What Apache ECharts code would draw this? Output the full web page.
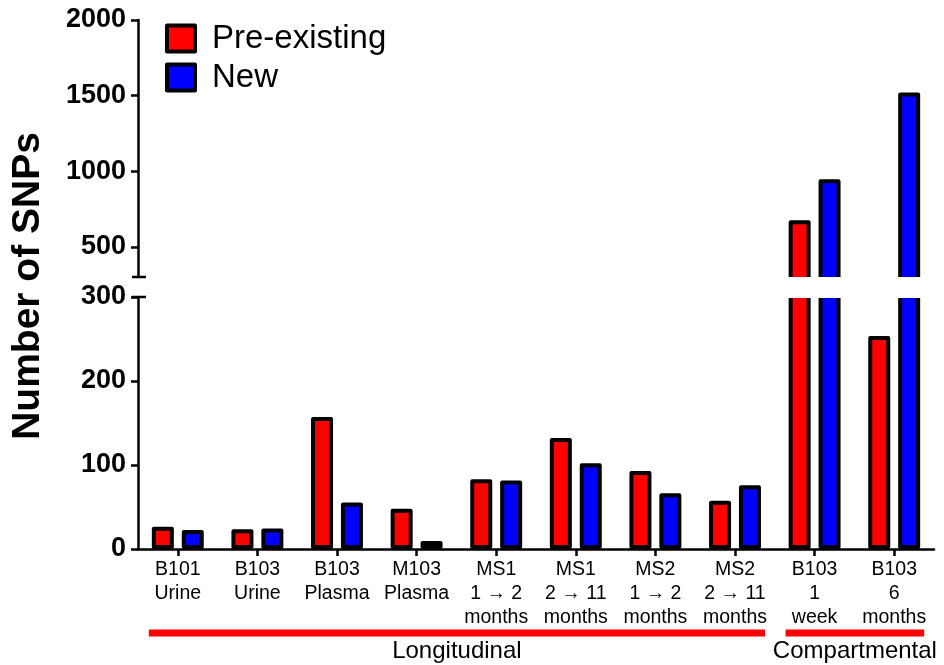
<!DOCTYPE html>
<html><head><meta charset="utf-8">
<script src="https://cdn.jsdelivr.net/npm/echarts@6/dist/echarts.min.js"></script>
<style>html,body{margin:0;padding:0;background:#fff}#c{width:944px;height:665px}</style>
</head><body><div id="c"></div>
<script>
const categories = ['B101\nUrine','B103\nUrine','B103\nPlasma','M103\nPlasma','MS1\n1 → 2\nmonths','MS1\n2 → 11\nmonths','MS2\n1 → 2\nmonths','MS2\n2 → 11\nmonths','B103\n1\nweek','B103\n6\nmonths'];
const preExisting = [26.5, 23.5, 157, 48, 83, 132, 93, 57.5, 675, 253.5];
const newSnps = [22.5, 24.5, 55.5, 9.5, 81.5, 102, 66.5, 76, 946, 1520];
const upperTicks = [500, 1000, 1500, 2000];
const lowerTicks = [0, 100, 200, 300];
const breakAt = 300;
const groups = [
  {name: 'Longitudinal', from: 0, to: 7},
  {name: 'Compartmental', from: 8, to: 9}
];
const yTitle = 'Number of SNPs';

const FONT = '"Liberation Sans", Arial, sans-serif';
const chart = echarts.init(document.getElementById('c'), null, {renderer: 'canvas'});
const barStyle = c => ({color: c, borderColor: '#000', borderWidth: 4, borderJoin: 'round'});
const axisLine = {show: true, lineStyle: {color: '#000', width: 2.5}};
const tickStyle = {color: '#000', width: 2.5};
const yLabel = {color: '#000', fontFamily: FONT, fontWeight: 'bold', fontSize: 27, margin: 12,
                formatter: v => String(v)};

// Upper panel spans 300..2000 (with a few px of overflow below the break hidden later);
// lower panel spans 0..300 (plus a few px above the break).
chart.setOption({
  animation: false,
  backgroundColor: '#fff',
  grid: [
    {left: 138, right: 10, top: 20, bottom: 384},
    {left: 138, right: 10, top: 294, bottom: 116}
  ],
  legend: {
    data: ['Pre-existing', 'New'], orient: 'vertical', left: 165, top: 22, padding: 0,
    icon: 'rect', itemWidth: 28, itemHeight: 26, itemGap: 6, selectedMode: false,
    itemStyle: {borderWidth: 4, borderColor: '#000'},
    textStyle: {fontSize: 33, fontFamily: FONT, color: '#000', lineHeight: 33, padding: [0, 0, 0, 12]}
  },
  xAxis: [
    {type: 'category', gridIndex: 0, data: categories, show: false},
    {type: 'category', gridIndex: 1, data: categories,
     axisLine: axisLine,
     axisTick: {show: true, alignWithLabel: true, length: 7, lineStyle: tickStyle},
     axisLabel: {interval: 0, color: '#000', fontFamily: FONT, fontSize: 19.5, lineHeight: 24, margin: 9}}
  ],
  yAxis: [
    {type: 'value', gridIndex: 0, min: 273.5, max: 2000, splitLine: {show: false},
     axisLine: axisLine,
     axisTick: {show: true, length: 7, customValues: upperTicks, lineStyle: tickStyle},
     axisLabel: Object.assign({customValues: upperTicks}, yLabel)},
    {type: 'value', gridIndex: 1, min: 0, max: 303.57, splitLine: {show: false},
     axisLine: axisLine,
     axisTick: {show: true, length: 7, customValues: lowerTicks, lineStyle: tickStyle},
     axisLabel: Object.assign({customValues: lowerTicks}, yLabel)}
  ],
  series: [
    {name: 'Pre-existing', type: 'bar', xAxisIndex: 1, yAxisIndex: 1, data: preExisting, barWidth: 22, barGap: '36%', clip: true, itemStyle: barStyle('#ff0000')},
    {name: 'New', type: 'bar', xAxisIndex: 1, yAxisIndex: 1, data: newSnps, barWidth: 22, barGap: '36%', clip: true, itemStyle: barStyle('#0000ff')},
    {name: 'Pre-existing', type: 'bar', xAxisIndex: 0, yAxisIndex: 0, data: preExisting, barWidth: 22, barGap: '36%', clip: true, itemStyle: barStyle('#ff0000')},
    {name: 'New', type: 'bar', xAxisIndex: 0, yAxisIndex: 0, data: newSnps, barWidth: 22, barGap: '36%', clip: true, itemStyle: barStyle('#0000ff')}
  ]
});

const px = i => chart.convertToPixel({xAxisIndex: 1}, i);
const band = px(1) - px(0);
const gLeft = px(0) - band / 2;
const gRight = px(categories.length - 1) + band / 2;
const yUp = chart.convertToPixel({yAxisIndex: 0}, breakAt);
const yLow = chart.convertToPixel({yAxisIndex: 1}, breakAt);
const yBase = chart.convertToPixel({yAxisIndex: 1}, 0);

const graphics = [
  {type: 'rect', z: 100, shape: {x: gLeft - 4, y: yUp, width: gRight - gLeft + 8, height: yLow - yUp + 1}, style: {fill: '#fff'}},
  {type: 'line', z: 101, shape: {x1: gLeft - 6, y1: yUp, x2: gLeft + 8, y2: yUp}, style: {stroke: '#000', lineWidth: 2.5}},
  {type: 'line', z: 101, shape: {x1: gLeft - 6, y1: yLow, x2: gLeft + 8, y2: yLow}, style: {stroke: '#000', lineWidth: 2.5}},
  {type: 'text', z: 101, x: 28.5, y: (yUp + yLow) / 2 - 1, rotation: Math.PI / 2,
   style: {text: yTitle, fontSize: 39, fontWeight: 'bold', fontFamily: FONT, fill: '#000',
           textAlign: 'center', textVerticalAlign: 'middle', align: 'center', verticalAlign: 'middle'}}
];
groups.forEach(g => {
  const x1 = px(g.from) - 29, x2 = px(g.to) + 30;
  graphics.push({type: 'line', z: 101, shape: {x1: x1, y1: yBase + 84, x2: x2, y2: yBase + 84}, style: {stroke: '#ff0000', lineWidth: 7}});
  graphics.push({type: 'text', z: 101, x: (x1 + x2) / 2, y: yBase + 102,
    style: {text: g.name, fontSize: 24, fontFamily: FONT, fill: '#000',
            textAlign: 'center', textVerticalAlign: 'middle', align: 'center', verticalAlign: 'middle'}});
});
chart.setOption({graphic: graphics});
</script></body></html>
